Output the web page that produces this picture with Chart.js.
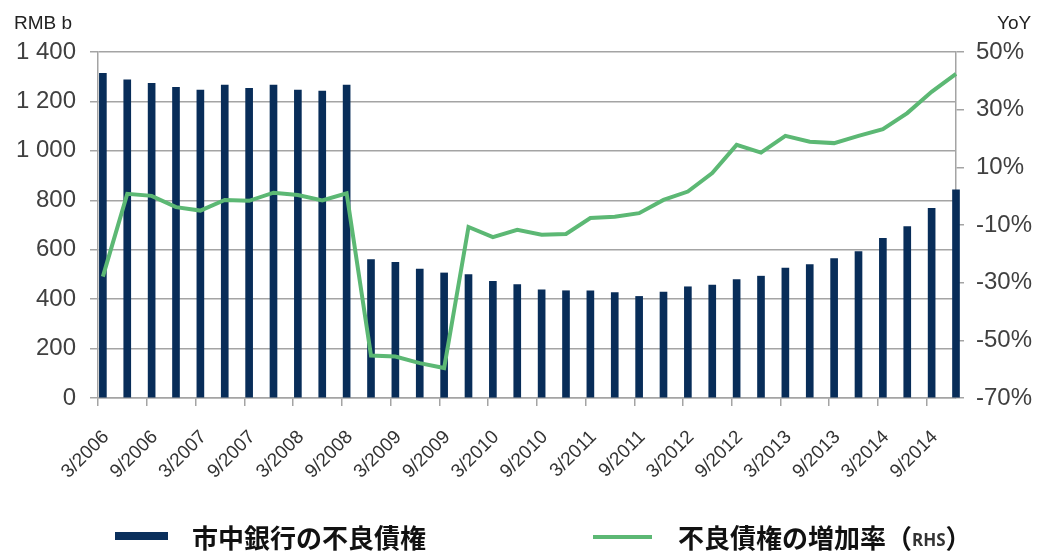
<!DOCTYPE html>
<html>
<head>
<meta charset="utf-8">
<script src="https://cdn.jsdelivr.net/npm/chart.js@4/dist/chart.umd.min.js"></script>
<style>
  body { margin: 0; background: #fff; }
  #wrap { position: relative; width: 1047px; height: 557px; font-family: "Liberation Sans", Arial, sans-serif; }
  .unit { position: absolute; color: #222; font-size: 19px; }
  .leg { position: absolute; font-family: "Noto Sans CJK JP", sans-serif; font-weight: 700; font-size: 26px; color: #111; line-height: 30px; }
  .rhs { font-family: "Noto Sans", sans-serif; font-weight: 700; font-size: 17px; color: #333; vertical-align: 2px; }
</style>
</head>
<body>
<div id="wrap">
  <canvas id="grafico" width="1047" height="557"></canvas>
  <div class="unit" style="left:14px; top:12px;">RMB b</div>
  <div class="unit" style="left:997px; top:12px;">YoY</div>
  <div style="position:absolute; left:115px; top:532px; width:53px; height:8px; background:#0a2f5c;"></div>
  <div class="leg" style="left:192px; top:522px;">市中銀行の不良債権</div>
  <div style="position:absolute; left:593px; top:535px; width:59px; height:4px; background:#5cb874;"></div>
  <div class="leg" style="left:678px; top:522px;">不良債権の増加率（<span class="rhs">RHS</span>）</div>
</div>
<script>
// 四半期 3/2006 .. 12/2014
const quarters = [
  "3/2006","6/2006","9/2006","12/2006","3/2007","6/2007","9/2007","12/2007",
  "3/2008","6/2008","9/2008","12/2008","3/2009","6/2009","9/2009","12/2009",
  "3/2010","6/2010","9/2010","12/2010","3/2011","6/2011","9/2011","12/2011",
  "3/2012","6/2012","9/2012","12/2012","3/2013","6/2013","9/2013","12/2013",
  "3/2014","6/2014","9/2014","12/2014"
];
const tickLabels = [
  "3/2006","9/2006","3/2007","9/2007","3/2008","9/2008","3/2009","9/2009","3/2010",
  "9/2010","3/2011","9/2011","3/2012","9/2012","3/2013","9/2013","3/2014","9/2014"
];
// 市中銀行の不良債権 (RMB b)
const npl = [
  1314, 1287, 1273, 1257, 1246, 1266, 1253, 1266, 1246, 1242, 1266, 560,
  549, 522, 506, 499, 472, 459, 438, 434, 434, 427, 411, 429,
  450, 457, 479, 493, 526, 540, 564, 592, 646, 694, 767, 842
];
// 不良債権の増加率 (YoY, %)
const yoy = [
  -27.9, 0.8, 0.1, -3.8, -5.0, -1.3, -1.6, 1.2, 0.4, -1.5, 1.0, -55.3,
  -55.6, -57.9, -59.6, -10.7, -14.2, -11.7, -13.4, -13.1, -7.6, -7.1, -5.9, -1.3,
  1.6, 8.0, 17.8, 15.1, 20.9, 18.9, 18.4, 20.9, 23.2, 28.8, 36.2, 42.4
];

const gris = '#a4a4a4';

function formatRMB(v) {
  if (v >= 1000) return Math.floor(v / 1000) + ' ' + String(v % 1000).padStart(3, '0');
  return String(v);
}

new Chart(document.getElementById('grafico'), {
  type: 'bar',
  data: {
    datasets: [
      {
        type: 'line',
        label: '不良債権の増加率(RHS)',
        data: yoy.map((v, i) => ({ x: i, y: v })),
        yAxisID: 'y2',
        borderColor: '#5cb874',
        borderWidth: 4,
        pointRadius: 0,
        tension: 0,
        clip: false,
        order: 0
      },
      {
        label: '市中銀行の不良債権',
        data: npl.map((v, i) => ({ x: i, y: v })),
        yAxisID: 'y',
        backgroundColor: '#082d59',
        barThickness: 7,
        clip: false,
        order: 1
      }
    ]
  },
  options: {
    responsive: false,
    animation: false,
    layout: { padding: { top: 52, bottom: 0, left: 0, right: 0 } },
    plugins: { legend: { display: false }, tooltip: { enabled: false } },
    scales: {
      x: {
        type: 'linear',
        offset: false,
        min: -0.2,
        max: 35,
        afterBuildTicks: s => { s.ticks = tickLabels.map((t, k) => ({ value: k * 2 - 0.2 })); },
        afterFit: s => { s.height = 159; },
        border: { color: gris, width: 1.5 },
        grid: { offset: false, drawOnChartArea: false, color: gris, lineWidth: 1.5, tickLength: 8 },
        ticks: {
          autoSkip: false,
          minRotation: 45,
          maxRotation: 45,
          padding: 20,
          labelOffset: 8,
          color: '#333',
          font: { family: 'Liberation Sans', size: 19 },
          callback: (v, i) => tickLabels[i]
        }
      },
      y: {
        position: 'left',
        min: 0,
        max: 1400,
        afterFit: s => { s.width = 98; },
        border: { color: gris, width: 1.5 },
        grid: { color: gris, lineWidth: 1.5, tickLength: 8 },
        ticks: {
          stepSize: 200,
          padding: 14,
          color: '#404040',
          font: { family: 'Liberation Sans', size: 24 },
          callback: v => formatRMB(v)
        }
      },
      y2: {
        position: 'right',
        min: -70,
        max: 50,
        afterFit: s => { s.width = 91; },
        border: { color: gris, width: 1.5 },
        grid: { drawOnChartArea: false, color: gris, lineWidth: 1.5, tickLength: 8 },
        ticks: {
          stepSize: 20,
          padding: 12,
          color: '#404040',
          font: { family: 'Liberation Sans', size: 24 },
          callback: v => v + '%'
        }
      }
    }
  }
});
</script>
</body>
</html>
